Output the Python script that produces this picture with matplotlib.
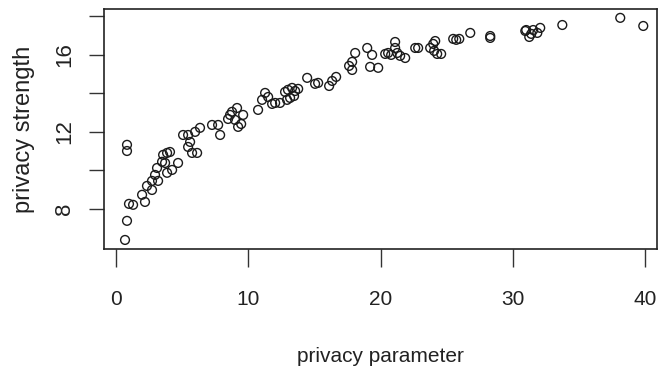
import numpy as np
import matplotlib.pyplot as plt

plt.rcParams['font.family'] = ['Liberation Sans', 'DejaVu Sans']

# privacy parameter vs privacy strength
privacy_parameter = [
    0.68, 0.83, 0.83, 0.83, 0.98, 1.29, 1.97, 2.19, 2.34, 2.72,
    2.72, 2.95, 3.10, 3.18, 3.48, 3.56, 3.71, 3.86, 3.86, 4.08,
    4.24, 4.69, 5.07, 5.45, 5.60, 5.45, 5.75, 6.13, 5.98, 6.35,
    7.26, 7.72, 7.87, 8.62, 9.15, 9.00, 9.61, 9.23, 8.77, 8.47,
    9.46, 10.74, 11.04, 11.27, 11.50, 12.03, 11.80, 12.40, 12.78, 13.16,
    13.31, 12.93, 13.00, 13.54, 13.77, 13.46, 14.45, 15.05, 15.28, 16.11,
    16.34, 16.64, 17.85, 18.08, 17.85, 17.62, 18.99, 19.36, 19.21, 19.82,
    20.35, 20.57, 20.80, 21.10, 21.10, 21.26, 21.48, 21.86, 22.62, 22.84,
    23.75, 23.98, 24.13, 24.05, 24.28, 24.58, 25.49, 25.95, 25.72, 26.78,
    28.29, 28.29, 31.01, 31.24, 31.39, 31.54, 31.85, 32.07, 33.74, 38.12,
    39.86, 30.94,
]
privacy_strength = [
    6.39, 7.38, 11.32, 11.00, 8.26, 8.21, 8.73, 8.36, 9.19, 8.98,
    9.45, 9.76, 10.12, 9.45, 10.44, 10.80, 10.38, 9.87, 10.90, 10.95,
    10.02, 10.38, 11.83, 11.21, 11.47, 11.83, 10.90, 10.90, 11.99, 12.20,
    12.35, 12.35, 11.83, 12.87, 13.23, 12.61, 12.87, 12.25, 13.03, 12.66,
    12.40, 13.13, 13.65, 14.01, 13.80, 13.49, 13.44, 13.49, 14.06, 13.75,
    14.27, 13.65, 14.17, 14.11, 14.22, 13.85, 14.79, 14.48, 14.53, 14.37,
    14.63, 14.84, 15.62, 16.08, 15.20, 15.41, 16.34, 15.98, 15.36, 15.31,
    16.03, 16.08, 15.98, 16.65, 16.34, 16.08, 15.93, 15.82, 16.34, 16.34,
    16.34, 16.55, 16.70, 16.19, 16.03, 16.03, 16.81, 16.81, 16.76, 17.12,
    16.86, 16.96, 17.27, 16.91, 17.07, 17.27, 17.12, 17.38, 17.53, 17.90,
    17.48, 17.22,
]

x_ticks = [0, 10, 20, 30, 40]
y_ticks = [8, 10, 12, 14, 16, 18]
y_ticklabels = ['8', '', '12', '', '16', '']

fig = plt.figure(figsize=(6.59, 3.67), dpi=100)
ax = fig.add_axes([0.158, 0.322, 0.839, 0.653])

ax.scatter(privacy_parameter, privacy_strength, s=40, facecolors='none',
           edgecolors='#1a1a1a', linewidths=1.0)

ax.set_xlim(-0.9, 40.9)
ax.set_ylim(5.93, 18.35)
ax.set_xticks(x_ticks)
ax.set_yticks(y_ticks)
ax.set_yticklabels(y_ticklabels, rotation=90, va='center')

for side in ax.spines.values():
    side.set_linewidth(1.2)
    side.set_color('#222222')

ax.tick_params(axis='x', length=13, width=1, color='#333333', pad=17,
               labelsize=15, labelcolor='#222222')
ax.tick_params(axis='y', length=11, width=1, color='#333333', pad=10,
               labelsize=16, labelcolor='#222222')

ax.set_xlabel('privacy parameter', fontsize=15, color='#222222', labelpad=27)
ax.set_ylabel('privacy strength', fontsize=17, color='#222222', labelpad=14)

fig.savefig('out.png', dpi=100)
